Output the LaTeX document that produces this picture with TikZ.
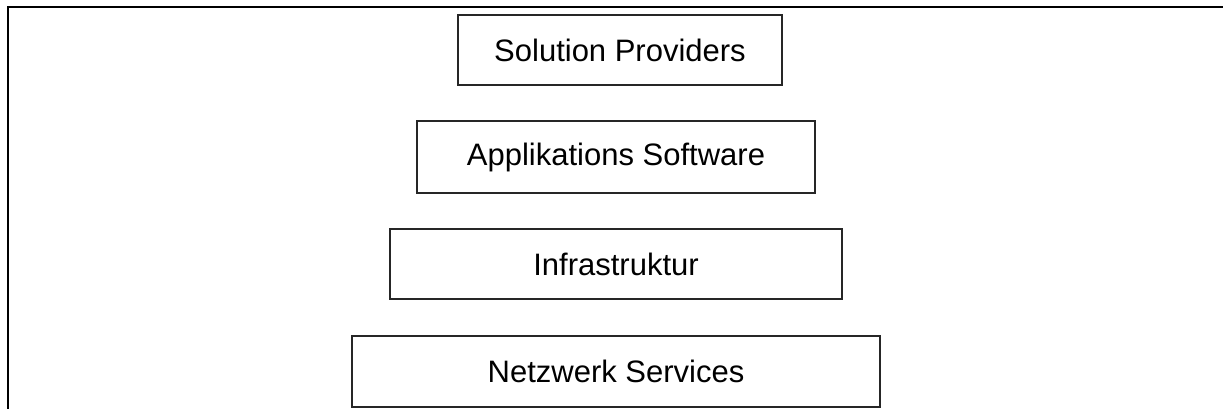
\documentclass[tikz,border=0pt]{standalone}
\usepackage{fontspec}
\setmainfont{Liberation Sans}
\begin{document}
\begin{tikzpicture}[x=1pt,y=-1pt,
  layer/.style={draw=black!85, line width=1.1pt, inner sep=0pt, font=\fontsize{31}{36}\selectfont}]
\useasboundingbox (0,0) rectangle (1223,409);
\draw[line width=2.2pt] (8,409) -- (8,7) -- (1223,7);
\node[layer, minimum width=324pt, minimum height=70pt] (sp) at (620,50) {Solution Providers};
\node[layer, minimum width=398pt, minimum height=72pt] (as) at (616,157) {Applikations Software};
\node[layer, minimum width=452pt, minimum height=70pt] (inf) at (616,264) {Infrastruktur};
\node[layer, minimum width=528pt, minimum height=71pt] (ns) at (616,371.5) {Netzwerk Services};
\end{tikzpicture}
\end{document}
